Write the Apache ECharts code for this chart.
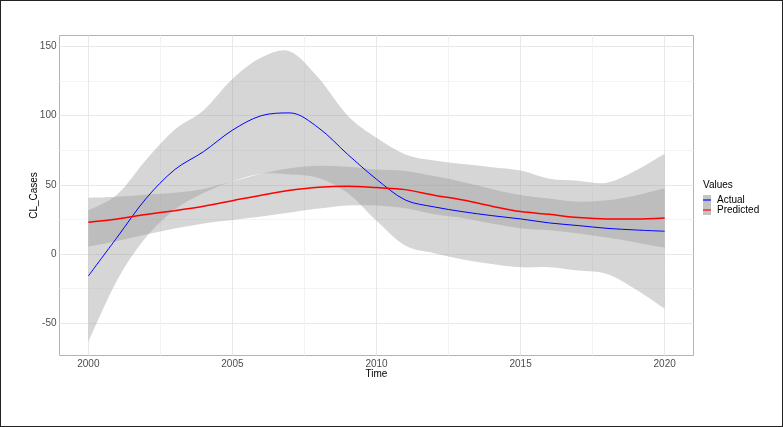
<!DOCTYPE html>
<html>
<head>
<meta charset="utf-8">
<script src="https://cdn.jsdelivr.net/npm/echarts@6/dist/echarts.min.js"></script>
<style>
  html, body { margin: 0; padding: 0; background: #fff; }
  #frame { width: 783px; height: 427px; box-sizing: border-box; border: 1.5px solid #222; }
  #chart { width: 100%; height: 100%; }
</style>
</head>
<body>
<div id="frame"><div id="chart"></div></div>
<script>
// smoothed fits, one value per year
const years = [2000, 2001, 2002, 2003, 2004, 2005, 2006, 2007, 2008, 2009, 2010,
               2011, 2012, 2013, 2014, 2015, 2016, 2017, 2018, 2019, 2020];

const actualFit   = [-16, 12, 40, 61, 74, 89.5, 100, 102, 91, 72, 54,
                     39, 34, 30.5, 27.7, 25.3, 22.4, 20.5, 18.5, 17.3, 16.4];
const actualLower = [-63.5, -19, 12, 32, 44, 52.5, 58, 57.5, 55, 44, 24,
                     6, 0.5, -4, -7.3, -9.7, -9.6, -12, -14.5, -25.7, -39.6];
const actualUpper = [31.5, 43, 68, 90, 104, 126.5, 142, 146.5, 127, 100, 84,
                     72, 67.5, 65, 62.7, 60.3, 54.4, 53, 51.5, 60.3, 72.4];

const predFit   = [22.9, 25.3, 28.5, 31.3, 34.5, 38.5, 42.5, 46, 48.3, 49, 48,
                   46.5, 42.5, 39, 34.5, 30.6, 28.6, 26.3, 25.3, 25.3, 26];
const predLower = [5.2, 9.3, 14, 18.3, 22, 24.5, 27, 30, 32.8, 35, 35,
                   33, 28.7, 26, 22, 18.6, 17.1, 14.8, 11.8, 8.3, 4.5];
const predUpper = [40.6, 41.3, 43, 44.3, 47, 52.5, 58, 62, 63.8, 63, 61,
                   60, 56.3, 52, 47, 42.6, 40.1, 37.8, 38.8, 42.3, 47.5];

const xTicks = [2000, 2005, 2010, 2015, 2020];
const xMinor = [2002.5, 2007.5, 2012.5, 2017.5];
const yTicks = [-50, 0, 50, 100, 150];
const yMinor = [-25, 25, 75, 125];

const pairs = arr => years.map((y, i) => [y, arr[i]]);

const bandFill = 'rgba(153,153,153,0.4)';
const axisFont = { color: '#4d4d4d', fontSize: 10, fontFamily: 'Liberation Sans' };

// catmull-rom through pixel points, as bezier segments
function curve(pts) {
  let d = '';
  for (let i = 0; i < pts.length - 1; i++) {
    const p0 = pts[Math.max(i - 1, 0)], p1 = pts[i], p2 = pts[i + 1];
    const p3 = pts[Math.min(i + 2, pts.length - 1)];
    const c1x = p1[0] + (p2[0] - p0[0]) / 6, c1y = p1[1] + (p2[1] - p0[1]) / 6;
    const c2x = p2[0] - (p3[0] - p1[0]) / 6, c2y = p2[1] - (p3[1] - p1[1]) / 6;
    d += ` C${c1x},${c1y} ${c2x},${c2y} ${p2[0]},${p2[1]}`;
  }
  return d;
}

function band(name, lo, hi) {
  return {
    type: 'custom', name: name, silent: true, clip: true,
    data: years.map((y, i) => [y, lo[i], hi[i]]),
    encode: { x: 0, y: [1, 2] },
    renderItem(params, api) {
      if (params.dataIndex !== 0) return null;
      const top = years.map((y, i) => api.coord([y, hi[i]]));
      const bot = years.map((y, i) => api.coord([y, lo[i]])).reverse();
      const d = `M${top[0][0]},${top[0][1]}` + curve(top) +
                ` L${bot[0][0]},${bot[0][1]}` + curve(bot) + ' Z';
      return { type: 'path', shape: { pathData: d }, style: { fill: bandFill, stroke: null } };
    }
  };
}

const chart = echarts.init(document.getElementById('chart'));

chart.setOption({
  animation: false,
  textStyle: { fontFamily: 'Liberation Sans' },
  grid: { left: 58.5, top: 34.5, width: 634, height: 320, show: true,
          borderColor: '#b3b3b3', borderWidth: 1, backgroundColor: 'transparent' },
  title: {
    text: 'Values', left: 702, top: 179, padding: 0,
    textStyle: { fontSize: 10, fontWeight: 'normal', color: '#000', fontFamily: 'Liberation Sans' }
  },
  legend: [
    {
      orient: 'vertical', left: 702, top: 194, padding: 0, itemWidth: 8, itemHeight: 10, itemGap: 0,
      selectedMode: false, icon: 'rect', data: ['Actual', 'Predicted'],
      itemStyle: { color: '#c4c4c4' }, formatter: () => ''
    },
    {
      orient: 'vertical', left: 702, top: 194, padding: 0, itemWidth: 8, itemHeight: 10, itemGap: 0,
      selectedMode: false, icon: 'path://M0,4.3L10,4.3L10,5.7L0,5.7Z', data: ['Actual', 'Predicted'],
      textStyle: { fontSize: 10, color: '#000', padding: [0, 0, 0, 1] }
    }
  ],
  xAxis: [
    {
      type: 'value', min: 1999, max: 2021,
      name: 'Time', nameLocation: 'middle', nameGap: 14, nameMoveOverlap: false,
      nameTextStyle: { color: '#000', fontSize: 10 },
      axisLine: { show: false }, axisTick: { show: false, customValues: xTicks },
      axisLabel: { ...axisFont, margin: 4, customValues: xTicks, formatter: v => String(v) },
      splitLine: { show: true, lineStyle: { color: '#e8e8e8', width: 1 } }
    },
    {
      type: 'value', min: 1999, max: 2021, position: 'top',
      axisLine: { show: false }, axisTick: { show: false, customValues: xMinor },
      axisLabel: { show: false, customValues: xMinor },
      splitLine: { show: true, lineStyle: { color: '#f3f3f3', width: 1 } }
    }
  ],
  yAxis: [
    {
      type: 'value', min: -73.5, max: 158,
      name: 'CL_Cases', nameLocation: 'middle', nameGap: 20, nameMoveOverlap: false,
      nameTextStyle: { color: '#000', fontSize: 10 },
      axisLine: { show: false }, axisTick: { show: false, customValues: yTicks },
      axisLabel: { ...axisFont, margin: 3, customValues: yTicks },
      splitLine: { show: true, lineStyle: { color: '#e8e8e8', width: 1 } }
    },
    {
      type: 'value', min: -73.5, max: 158, position: 'right',
      axisLine: { show: false }, axisTick: { show: false, customValues: yMinor },
      axisLabel: { show: false, customValues: yMinor },
      splitLine: { show: true, lineStyle: { color: '#f3f3f3', width: 1 } }
    }
  ],
  series: [
    band('actualBand', actualLower, actualUpper),
    {
      type: 'line', name: 'Actual', data: pairs(actualFit), smooth: 0.33,
      symbol: 'none', color: '#0000ff', lineStyle: { width: 1, color: '#0000ff' }
    },
    band('predBand', predLower, predUpper),
    {
      type: 'line', name: 'Predicted', data: pairs(predFit), smooth: 0.33,
      symbol: 'none', color: '#ff0000', lineStyle: { width: 1.5, color: '#ff0000' }
    }
  ]
});
</script>
</body>
</html>
